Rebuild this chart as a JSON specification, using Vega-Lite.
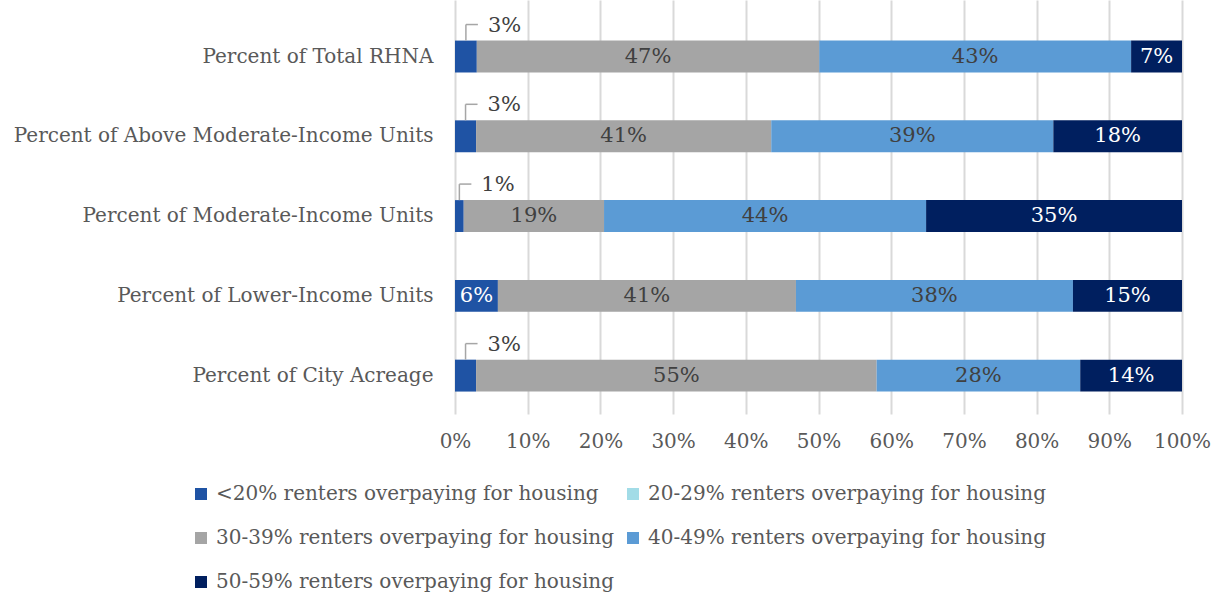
{
  "$schema": "https://vega.github.io/schema/vega-lite/v6.json",
  "width": 727,
  "height": 414,
  "autosize": {"type": "none"},
  "padding": {"left": 455, "top": 0, "right": 38, "bottom": 181},
  "background": "white",
  "config": {
    "view": {"stroke": null},
    "font": "DejaVu Serif",
    "axis": {"labelFont": "DejaVu Serif", "labelFontSize": 20, "labelColor": "#595959"},
    "legend": {"labelFont": "DejaVu Serif", "labelFontSize": 20, "labelColor": "#595959"}
  },
  "data": {
    "values": [
      {"category": "Percent of Total RHNA", "band": "<20% renters overpaying for housing", "value": 0.030},
      {"category": "Percent of Total RHNA", "band": "30-39% renters overpaying for housing", "value": 0.471},
      {"category": "Percent of Total RHNA", "band": "40-49% renters overpaying for housing", "value": 0.429},
      {"category": "Percent of Total RHNA", "band": "50-59% renters overpaying for housing", "value": 0.070},
      {"category": "Percent of Above Moderate-Income Units", "band": "<20% renters overpaying for housing", "value": 0.029},
      {"category": "Percent of Above Moderate-Income Units", "band": "30-39% renters overpaying for housing", "value": 0.406},
      {"category": "Percent of Above Moderate-Income Units", "band": "40-49% renters overpaying for housing", "value": 0.388},
      {"category": "Percent of Above Moderate-Income Units", "band": "50-59% renters overpaying for housing", "value": 0.177},
      {"category": "Percent of Moderate-Income Units", "band": "<20% renters overpaying for housing", "value": 0.012},
      {"category": "Percent of Moderate-Income Units", "band": "30-39% renters overpaying for housing", "value": 0.193},
      {"category": "Percent of Moderate-Income Units", "band": "40-49% renters overpaying for housing", "value": 0.443},
      {"category": "Percent of Moderate-Income Units", "band": "50-59% renters overpaying for housing", "value": 0.352},
      {"category": "Percent of Lower-Income Units", "band": "<20% renters overpaying for housing", "value": 0.059},
      {"category": "Percent of Lower-Income Units", "band": "30-39% renters overpaying for housing", "value": 0.410},
      {"category": "Percent of Lower-Income Units", "band": "40-49% renters overpaying for housing", "value": 0.381},
      {"category": "Percent of Lower-Income Units", "band": "50-59% renters overpaying for housing", "value": 0.150},
      {"category": "Percent of City Acreage", "band": "<20% renters overpaying for housing", "value": 0.029},
      {"category": "Percent of City Acreage", "band": "30-39% renters overpaying for housing", "value": 0.551},
      {"category": "Percent of City Acreage", "band": "40-49% renters overpaying for housing", "value": 0.280},
      {"category": "Percent of City Acreage", "band": "50-59% renters overpaying for housing", "value": 0.140}
    ]
  },
  "transform": [
    {"calculate": "indexof(['<20% renters overpaying for housing','20-29% renters overpaying for housing','30-39% renters overpaying for housing','40-49% renters overpaying for housing','50-59% renters overpaying for housing'], datum.band)", "as": "order"},
    {"stack": "value", "groupby": ["category"], "sort": [{"field": "order", "order": "ascending"}], "as": ["v0", "v1"]},
    {"calculate": "(datum.v0 + datum.v1) / 2", "as": "mid"},
    {"calculate": "format(datum.value, '.0%')", "as": "label"}
  ],
  "encoding": {
    "y": {
      "field": "category",
      "type": "nominal",
      "sort": ["Percent of Total RHNA", "Percent of Above Moderate-Income Units", "Percent of Moderate-Income Units", "Percent of Lower-Income Units", "Percent of City Acreage"],
      "scale": {"paddingInner": 0.6, "paddingOuter": 0.395, "align": 0.644},
      "axis": {"title": null, "domain": false, "ticks": false, "labelPadding": 22, "labelLimit": 500}
    }
  },
  "layer": [
    {
      "mark": {"type": "bar"},
      "encoding": {
        "x": {
          "field": "v0", "type": "quantitative",
          "scale": {"domain": [0, 1], "nice": false},
          "axis": {"title": null, "format": ".0%", "values": [0, 0.1, 0.2, 0.3, 0.4, 0.5, 0.6, 0.7, 0.8, 0.9, 1], "grid": true, "gridColor": "#D9D9D9", "gridWidth": 2, "domain": false, "ticks": false, "labelPadding": 17, "labelOverlap": false, "labelFlush": false}
        },
        "x2": {"field": "v1"},
        "color": {
          "field": "band", "type": "nominal",
          "scale": {
            "domain": ["<20% renters overpaying for housing", "30-39% renters overpaying for housing", "50-59% renters overpaying for housing", "20-29% renters overpaying for housing", "40-49% renters overpaying for housing"],
            "range": ["#1F53A4", "#A5A5A5", "#001F5F", "#A2DCE7", "#5B9BD5"]
          },
          "legend": {
            "title": null, "orient": "none", "legendX": -264, "legendY": 484, "columns": 2,
            "symbolType": "square", "symbolSize": 144, "symbolStrokeWidth": 0, "labelOffset": 5,
            "rowPadding": 24, "columnPadding": 8, "padding": 0, "labelLimit": 500
          }
        }
      }
    },
    {
      "transform": [{"filter": "datum.value < 0.04 && datum.value > 0"}],
      "mark": {"type": "rule", "color": "#A6A6A6", "strokeWidth": 1.5, "yOffset": -16},
      "encoding": {
        "x": {"field": "mid", "type": "quantitative"},
        "y": {"field": "category", "type": "nominal", "bandPosition": 0, "sort": ["Percent of Total RHNA", "Percent of Above Moderate-Income Units", "Percent of Moderate-Income Units", "Percent of Lower-Income Units", "Percent of City Acreage"]},
        "y2": {"field": "category", "bandPosition": 0}
      }
    },
    {
      "transform": [{"filter": "datum.value < 0.04 && datum.value > 0"}],
      "mark": {"type": "rule", "color": "#A6A6A6", "strokeWidth": 1.5, "yOffset": -32, "x2Offset": 12},
      "encoding": {"x": {"field": "mid", "type": "quantitative"}, "x2": {"field": "mid"}}
    },
    {
      "transform": [{"filter": "datum.value >= 0.04"}],
      "mark": {"type": "text", "fontSize": 21, "baseline": "middle"},
      "encoding": {
        "x": {"field": "mid", "type": "quantitative"},
        "text": {"field": "label"},
        "color": {
          "condition": {"test": "datum.band == '<20% renters overpaying for housing' || datum.band == '50-59% renters overpaying for housing'", "value": "#FFFFFF"},
          "value": "#404040"
        }
      }
    },
    {
      "transform": [{"filter": "datum.value < 0.04 && datum.value > 0"}],
      "mark": {"type": "text", "fontSize": 21, "baseline": "middle", "align": "left", "color": "#404040", "xOffset": 22, "yOffset": -31},
      "encoding": {
        "x": {"field": "mid", "type": "quantitative"},
        "text": {"field": "label"}
      }
    }
  ]
}
